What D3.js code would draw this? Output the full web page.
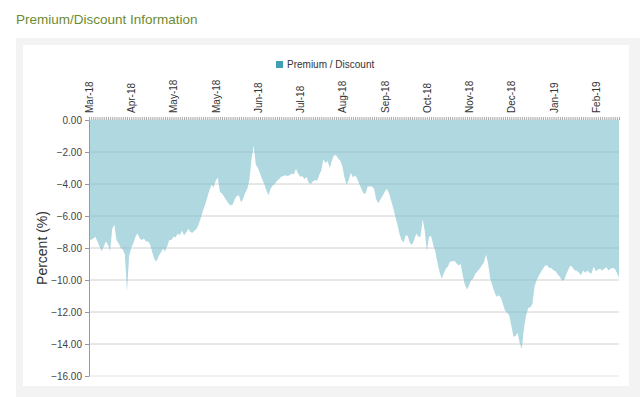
<!DOCTYPE html>
<meta charset="utf-8">
<script src="https://d3js.org/d3.v7.min.js"></script>
<style>
  body { margin: 0; background: #fff; font-family: "Liberation Sans", Arial, sans-serif; }
</style>
<div id="vis_data"></div>

<script>

    // month labels shown every 20 trading days along the top axis
    var tickLabels = ["Mar-18", "Apr-18", "May-18", "May-18", "Jun-18", "Jul-18", "Aug-18",
                      "Sep-18", "Oct-18", "Nov-18", "Dec-18", "Jan-19", "Feb-19"];
    var labelStep = 20;

    // premium / discount in percent, one value per trading day
    var premium = [
        -7.4, -7.5, -7.4, -7.3, -7.6, -7.9, -8.2, -7.9, -7.6, -7.8,
        -8.2, -6.8, -6.55, -7.5, -7.7, -8.0, -8.1, -8.4, -10.7, -8.5,
        -8.0, -7.7, -7.3, -7.1, -7.4, -7.5, -7.4, -7.6, -7.6, -7.8,
        -8.3, -8.7, -8.85, -8.5, -8.3, -8.05, -8.2, -7.9, -7.5, -7.5,
        -7.3, -7.35, -7.1, -7.2, -6.9, -7.2, -7.05, -6.8, -7.0, -7.05,
        -6.9, -6.8, -6.5, -6.1, -5.65, -5.3, -4.85, -4.4, -4.05, -4.2,
        -3.8, -3.6, -4.5, -4.6, -4.8, -5.0, -5.2, -5.35, -5.3, -4.95,
        -4.75, -4.7, -5.15, -4.9, -4.55, -4.3, -3.7, -2.4, -1.6, -2.8,
        -3.0, -3.35, -3.7, -4.0, -4.4, -4.7, -4.3, -4.1, -4.0, -3.8,
        -3.7, -3.55, -3.5, -3.45, -3.5, -3.45, -3.35, -3.4, -3.05, -3.35,
        -3.55, -3.5, -3.7, -3.55, -3.9, -4.0, -3.85, -3.75, -3.8, -3.45,
        -3.15, -2.45, -2.7, -2.55, -3.0, -2.55, -2.2, -2.2, -2.4, -2.55,
        -2.9, -3.6, -4.05, -3.75, -3.3, -3.6, -3.45, -3.65, -4.0, -4.3,
        -4.6, -4.6, -4.15, -4.15, -4.15, -4.3, -4.95, -5.2, -4.95, -4.75,
        -4.5, -4.3, -4.55, -5.0, -5.45, -6.0, -6.5, -7.1, -7.5, -7.65,
        -7.2, -7.25, -7.7, -7.8, -7.5, -7.1, -7.3, -7.3, -6.2, -6.9,
        -8.2, -7.3, -7.25, -7.8, -8.2, -8.9, -9.5, -9.9, -9.6, -9.3,
        -9.15, -8.85, -8.85, -8.8, -8.95, -9.1, -9.0, -9.7, -10.3, -10.6,
        -10.35, -10.0, -9.9, -9.6, -9.45, -9.3, -9.1, -8.9, -8.4, -8.95,
        -9.9, -10.35, -10.75, -11.05, -10.95, -11.1, -11.5, -11.9, -12.05, -12.2,
        -12.85, -13.55, -13.5, -13.3, -13.95, -14.3, -13.0, -12.2, -11.75, -11.7,
        -11.5, -10.4, -10.0, -9.75, -9.5, -9.3, -9.1, -9.1, -9.25, -9.25,
        -9.4, -9.45, -9.65, -9.8, -10.05, -10.0, -9.65, -9.35, -9.1, -9.2,
        -9.4, -9.4, -9.55, -9.7, -9.4, -9.55, -9.4, -9.55, -9.6, -9.15,
        -9.45, -9.35, -9.3, -9.4, -9.3, -9.2, -9.4, -9.3, -9.25, -9.3,
        -9.55, -9.85
    ];

    var yTicks = [0, -2, -4, -6, -8, -10, -12, -14, -16];

    // set the dimensions and margins of the graph
    var margin = {top: 120, right: 21, bottom: 21, left: 89},
        width = 640 - margin.left - margin.right,
        height = 397 - margin.top - margin.bottom;

    var root = d3.select("#vis_data")
        .append("svg")
        .attr("width", 640)
        .attr("height", 397)
        .style("display", "block");

    // page title
    root.append("text")
        .attr("x", 16)
        .attr("y", 24)
        .style("font-size", "13.5px")
        .style("fill", "#6b8b2f")
        .text("Premium/Discount Information");

    // grey panel and white card
    root.append("rect")
        .attr("x", 16).attr("y", 38)
        .attr("width", 640 - 16).attr("height", 397 - 38)
        .style("fill", "#f3f3f3");
    root.append("rect")
        .attr("x", 23).attr("y", 45)
        .attr("width", 606).attr("height", 341)
        .style("fill", "#ffffff");

    // legend
    root.append("rect")
        .attr("x", 276).attr("y", 61)
        .attr("width", 7).attr("height", 7)
        .style("fill", "#3f9fb3");
    root.append("text")
        .attr("x", 287)
        .attr("y", 68)
        .style("font-size", "10px")
        .style("fill", "#333")
        .text("Premium / Discount");

    // y axis title
    root.append("text")
        .attr("transform", "translate(47,248) rotate(-90)")
        .style("text-anchor", "middle")
        .style("font-size", "14px")
        .style("fill", "#333")
        .text("Percent (%)");

    var svg = root.append("g")
        .attr("transform", "translate(" + margin.left + "," + margin.top + ")");

    var x = d3.scaleLinear()
        .domain([0, premium.length - 1])
        .range([0, width]);

    var y = d3.scaleLinear()
        .domain([-16, 0])
        .range([height, 0]);

    // light grid under the area
    svg.selectAll("gridBase")
        .data(yTicks).enter()
        .append("line")
        .attr("x1", 0).attr("x2", width)
        .attr("y1", function(d) { return y(d); })
        .attr("y2", function(d) { return y(d); })
        .style("stroke", "#e4e4e4");

    // area
    var area = d3.area()
        .x(function(d, i) { return x(i); })
        .y0(y(0))
        .y1(function(d) { return y(d); });

    svg.append("path")
        .datum(premium)
        .attr("d", area)
        .style("fill", "#afd8e1");

    // grid lines seen through the fill
    svg.selectAll("gridTop")
        .data(yTicks.filter(function(d) { return d > -16 && d < 0; })).enter()
        .append("line")
        .attr("x1", 0).attr("x2", width)
        .attr("y1", function(d) { return y(d); })
        .attr("y2", function(d) { return y(d); })
        .style("stroke", "#000")
        .style("stroke-opacity", 0.08);

    // y axis
    var yAxis = svg.append("g")
        .call(d3.axisLeft(y).tickValues(yTicks).tickFormat(d3.format(".2f")).tickSize(4).tickSizeOuter(0));
    yAxis.select(".domain").style("stroke", "#999");
    yAxis.selectAll(".tick line").style("stroke", "#999");
    yAxis.selectAll("text")
        .attr("x", -7)
        .style("font-family", "Liberation Sans, Arial, sans-serif")
        .style("font-size", "10px")
        .style("fill", "#444");

    // top axis: a tick for every day, a label every 20 days
    var xAxis = svg.append("g")
        .call(d3.axisTop(x)
            .tickValues(d3.range(premium.length))
            .tickSize(3)
            .tickFormat(function(d) { return d % labelStep === 0 ? tickLabels[d / labelStep] : ""; }));
    xAxis.select(".domain").remove();
    xAxis.selectAll(".tick line").style("stroke", "#a9a9a9");
    xAxis.selectAll("text")
        .attr("transform", "rotate(-90)")
        .attr("x", 7)
        .attr("y", 0)
        .attr("dy", "0.35em")
        .style("text-anchor", "start")
        .style("font-family", "Liberation Sans, Arial, sans-serif")
        .style("font-size", "10px")
        .style("fill", "#333");

</script>
